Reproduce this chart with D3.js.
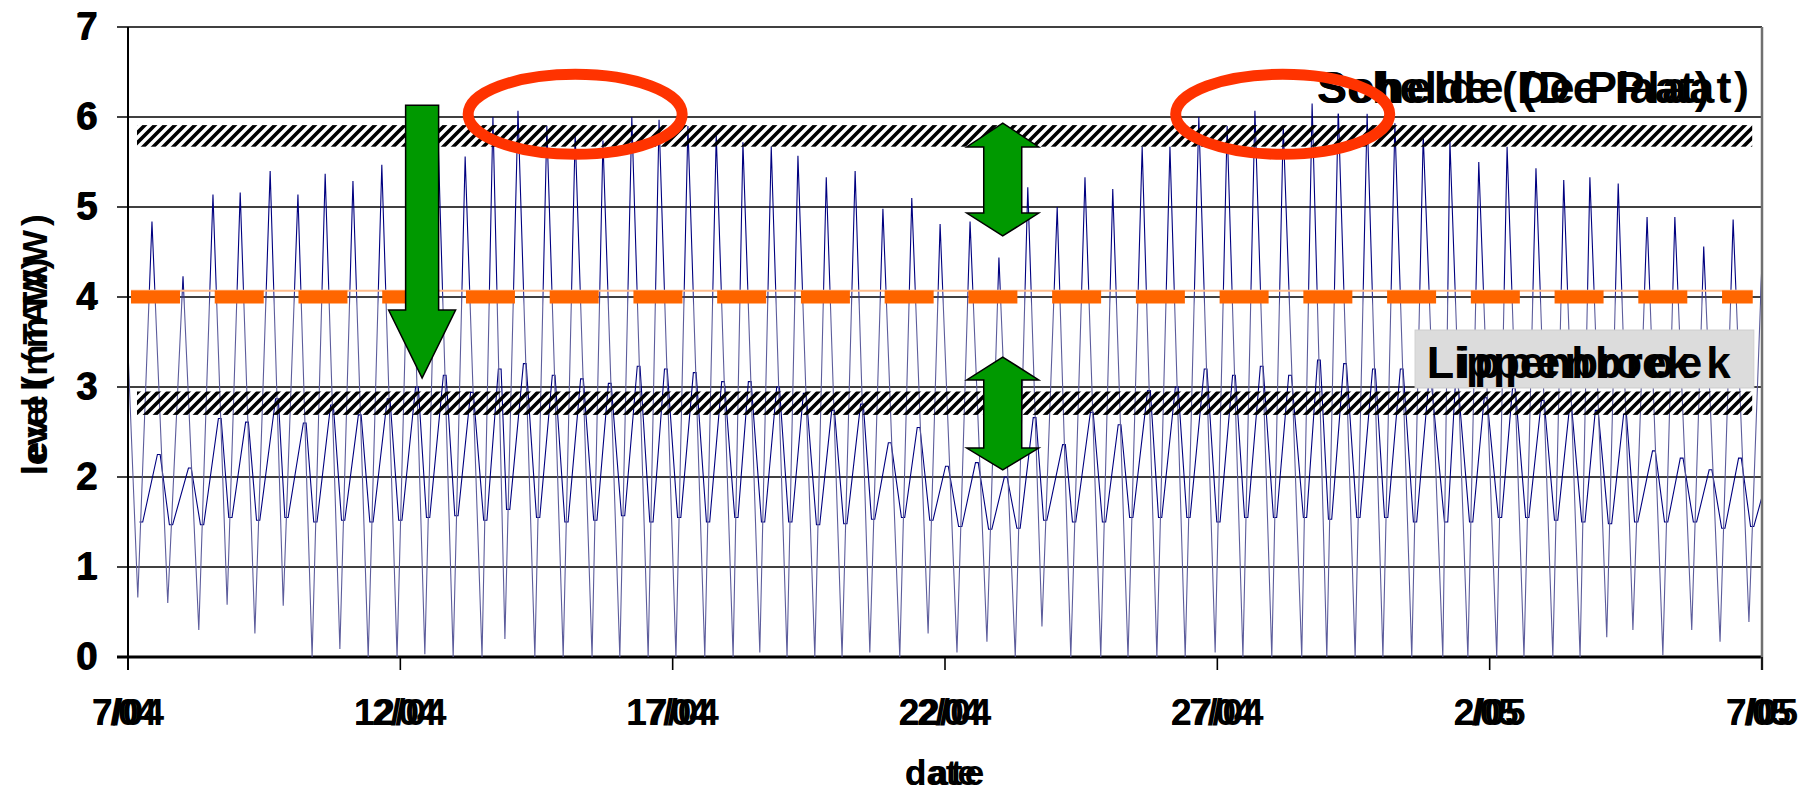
<!DOCTYPE html>
<html><head><meta charset="utf-8">
<script src="https://cdn.jsdelivr.net/npm/d3@7"></script>
<style>body{margin:0;background:#fff}</style>
</head><body>
<svg id="c" width="1814" height="795"></svg>
<script>
// ---------------- data ----------------
const xTickDays = [0, 5, 10, 15, 20, 25, 30];
const xTickLabels = ["7/04", "12/04", "17/04", "22/04", "27/04", "2/05", "7/05"];
const yTicks = [0, 1, 2, 3, 4, 5, 6, 7];

// Schelde (De Plaat): high waters (days since 7/04, level mTAW)
const hwT = [0.44,1.01,1.56,2.06,2.61,3.12,3.62,4.13,4.66,5.18,5.69,6.19,6.70,7.16,7.69,8.21,8.72,9.25,9.75,10.28,
  10.80,11.29,11.81,12.30,12.82,13.35,13.86,14.39,14.91,15.46,15.99,16.52,17.06,17.57,18.08,18.62,19.13,19.66,20.18,20.69,
  21.21,21.74,22.22,22.75,23.26,23.78,24.27,24.80,25.32,25.85,26.36,26.84,27.36,27.89,28.40,28.93,29.47,30.00];
const hwLevel = [4.84,4.23,5.14,5.16,5.40,5.14,5.37,5.29,5.47,5.60,5.83,5.56,6.00,6.07,5.90,5.81,5.74,6.00,5.97,5.90,
  5.80,5.72,5.67,5.57,5.33,5.40,4.98,5.10,4.81,4.84,4.44,5.22,5.00,5.33,5.20,5.67,5.67,6.00,5.90,6.07,
  5.90,6.15,6.10,6.04,5.93,5.80,5.74,5.50,5.67,5.43,5.30,5.33,5.26,4.89,4.89,4.56,4.86,4.40];
// Schelde low waters
const lwT = [0.18,0.73,1.30,1.82,2.33,2.85,3.38,3.89,4.41,4.94,5.45,5.97,6.50,6.92,7.47,7.99,8.52,9.03,9.55,10.06,
  10.59,11.11,11.60,12.10,12.61,13.11,13.62,14.17,14.69,15.22,15.77,16.29,16.78,17.31,17.86,18.36,18.89,19.41,19.96,20.47,
  21.00,21.55,22.01,22.53,23.04,23.57,24.14,24.60,25.13,25.63,26.16,26.66,27.15,27.63,28.18,28.71,29.23,29.76];
const lwLevel = [0.66,0.60,0.30,0.58,0.26,0.57,0.00,0.09,0.00,0.00,0.03,0.00,0.00,0.20,0.00,0.00,0.00,0.00,0.00,0.00,
  0.00,0.00,0.05,0.00,0.00,0.00,0.05,0.00,0.26,0.05,0.17,0.00,0.34,0.00,0.00,0.00,0.00,0.00,0.05,0.00,
  0.00,0.00,0.00,0.00,0.00,0.00,0.00,0.00,0.00,0.00,0.00,0.00,0.22,0.30,0.02,0.30,0.17,0.39];
const scheldeStart = [0.0, 3.4];

// Lippenbroek: high and low level per tide
const lipHigh = [2.25,2.10,2.65,2.61,2.87,2.60,2.80,2.69,2.87,3.00,3.13,2.94,3.20,3.26,3.13,3.09,3.04,3.23,3.20,3.16,
  3.06,3.06,3.00,2.93,2.74,2.81,2.38,2.55,2.12,2.16,2.00,2.66,2.36,2.72,2.58,2.96,3.00,3.20,3.13,3.23,
  3.13,3.30,3.26,3.20,3.20,3.05,3.03,2.88,2.99,2.85,2.74,2.74,2.70,2.29,2.21,2.08,2.21,2.00];
const lipLow = [1.50,1.47,1.47,1.55,1.52,1.55,1.50,1.52,1.50,1.52,1.55,1.57,1.52,1.64,1.55,1.50,1.52,1.57,1.50,1.55,
  1.50,1.55,1.50,1.50,1.47,1.48,1.53,1.55,1.52,1.45,1.42,1.43,1.52,1.50,1.50,1.55,1.55,1.55,1.50,1.55,
  1.55,1.55,1.53,1.55,1.55,1.50,1.50,1.50,1.55,1.55,1.52,1.50,1.48,1.50,1.50,1.50,1.43,1.45];
// time lags of Lippenbroek behind Schelde (days): top start/end, low start/end
const lipLag = {topStart: 0.10, topEnd: 0.15, lowStart: 0.03, lowEnd: 0.09};

// reference bands and level
const bands = [{lo: 5.67, hi: 5.91}, {lo: 2.69, hi: 2.95}];
const bandDays = [0.165, 29.82];
const refLevel = 4.0, refThin = 4.07;
const refDays = [0.055, 29.83];

// annotations (data coordinates)
const downArrow = {day: 5.40, top: 6.13, base: 3.856, tip: 3.10};
const dblArrows = [
  {day: 16.06, tip1: 5.933, base1: 5.667, base2: 4.933, tip2: 4.678},
  {day: 16.06, tip1: 3.333, base1: 3.078, base2: 2.322, tip2: 2.078}
];
const ellipses = [{day: 8.21, level: 6.03}, {day: 21.20, level: 6.03}];
const scheldeLabel = {text: "Schelde (De Plaat)", day: 21.83, level: 6.16};
const lipLabel = {text: "Lippenbroek", day: 23.85, level: 3.10, box: [23.63, 29.85, 3.633, 2.989]};

// ---------------- chart ----------------
const svg = d3.select("#c");
const FONT = "'Liberation Sans', Arial, sans-serif";
const x = d3.scaleLinear().domain([0, 30]).range([128, 1762]);
const y = d3.scaleLinear().domain([0, 7]).range([657, 27]);

const defs = svg.append("defs");
defs.append("clipPath").attr("id", "plotclip").append("rect")
  .attr("x", x(0)).attr("y", y(7)).attr("width", x(30) - x(0)).attr("height", y(0) - y(7) + 1);
const pat = defs.append("pattern").attr("id", "hatch").attr("patternUnits", "userSpaceOnUse")
  .attr("width", 10).attr("height", 10);
pat.append("path").attr("d", "M-2,2 l4,-4 M0,10 l10,-10 M8,12 l4,-4")
  .attr("stroke", "#000").attr("stroke-width", 3.6);
const grad = defs.append("linearGradient").attr("id", "sgrad").attr("gradientUnits", "userSpaceOnUse")
  .attr("x1", 0).attr("x2", 0).attr("y1", y(7)).attr("y2", y(0));
grad.append("stop").attr("offset", (y(4.15) - y(7)) / (y(0) - y(7))).attr("stop-color", "#000080");
grad.append("stop").attr("offset", (y(3.9) - y(7)) / (y(0) - y(7))).attr("stop-color", "#5c5c9c");
grad.append("stop").attr("offset", 1).attr("stop-color", "#5c5c9c");

// gridlines
svg.append("g").selectAll("line").data(yTicks).join("line")
  .attr("x1", 117).attr("x2", x(30))
  .attr("y1", d => y(d)).attr("y2", d => y(d))
  .attr("stroke", "#000").attr("stroke-width", d => d === 0 ? 3 : 1.6);

const plot = svg.append("g").attr("clip-path", "url(#plotclip)");
const line = d3.line().x(d => x(d[0])).y(d => y(d[1]));

// Lippenbroek series
const lip = [];
for (let i = 0; i < lipHigh.length; i++) {
  lip.push([lwT[i] + lipLag.lowStart, lipLow[i]]);
  lip.push([lwT[i] + lipLag.lowEnd, lipLow[i]]);
  lip.push([hwT[i] + lipLag.topStart, lipHigh[i]]);
  lip.push([hwT[i] + lipLag.topEnd, lipHigh[i]]);
}
plot.append("path").attr("d", line(lip)).attr("fill", "none")
  .attr("stroke", "#000080").attr("stroke-width", 1.1);

// Schelde series
const schelde = [scheldeStart];
for (let i = 0; i < hwT.length; i++) {
  schelde.push([lwT[i], lwLevel[i]]);
  schelde.push([hwT[i], hwLevel[i]]);
}
plot.append("path").attr("d", line(schelde)).attr("fill", "none")
  .attr("stroke", "url(#sgrad)").attr("stroke-width", 1.1);

// hatched bands
svg.append("g").selectAll("rect").data(bands).join("rect")
  .attr("x", x(bandDays[0])).attr("width", x(bandDays[1]) - x(bandDays[0]))
  .attr("y", d => y(d.hi)).attr("height", d => y(d.lo) - y(d.hi))
  .attr("fill", "url(#hatch)");

// reference level (orange)
svg.append("line").attr("x1", x(refDays[0])).attr("x2", x(refDays[1]))
  .attr("y1", y(refThin)).attr("y2", y(refThin))
  .attr("stroke", "#ffbb8a").attr("stroke-width", 2);
svg.append("line").attr("x1", x(refDays[0])).attr("x2", x(refDays[1]))
  .attr("y1", y(refLevel)).attr("y2", y(refLevel))
  .attr("stroke", "#ff6600").attr("stroke-width", 13)
  .attr("stroke-dasharray", "49 34.74");

// green arrows
const GREEN = "#009900";
{
  const cx = x(downArrow.day), sw = 16.5, hw = 33.5;
  const p = [[cx - sw, y(downArrow.top)], [cx + sw, y(downArrow.top)], [cx + sw, y(downArrow.base)],
    [cx + hw, y(downArrow.base)], [cx, y(downArrow.tip)], [cx - hw, y(downArrow.base)], [cx - sw, y(downArrow.base)]];
  svg.append("polygon").attr("points", p.map(d => d.join(",")).join(" "))
    .attr("fill", GREEN).attr("stroke", "#000").attr("stroke-width", 1.5);
}
svg.append("g").selectAll("polygon").data(dblArrows).join("polygon")
  .attr("points", a => {
    const cx = x(a.day), sw = 19, hw = 36;
    return [[cx, y(a.tip1)], [cx + hw, y(a.base1)], [cx + sw, y(a.base1)], [cx + sw, y(a.base2)],
      [cx + hw, y(a.base2)], [cx, y(a.tip2)], [cx - hw, y(a.base2)], [cx - sw, y(a.base2)],
      [cx - sw, y(a.base1)], [cx - hw, y(a.base1)]].map(d => d.join(",")).join(" ");
  })
  .attr("fill", GREEN).attr("stroke", "#000").attr("stroke-width", 1.5);

// doubled text helper
function dbl(g, tx, ty, txt, size, stretch, anchor, dx2 = 0, dy2 = 0) {
  const a = g.append("text").attr("x", tx).attr("y", ty).text(txt)
    .attr("font-family", FONT).attr("font-weight", "bold").attr("font-size", size)
    .attr("text-anchor", anchor).attr("fill", "#000");
  const L = a.node().getComputedTextLength();
  let sx = tx;
  if (anchor === "middle") sx = tx - L / 2;
  if (anchor === "end") sx = tx - L;
  const b = g.append("text").attr("x", sx + dx2).attr("y", ty + dy2).text(txt)
    .attr("font-family", FONT).attr("font-weight", "bold").attr("font-size", size)
    .attr("text-anchor", "start").attr("fill", "#000");
  if (txt.length > 1 && stretch !== 1) b.attr("textLength", L * stretch).attr("lengthAdjust", "spacing");
  return [a, b];
}

// Lippenbroek label box
{
  const b = lipLabel.box;
  svg.append("rect").attr("x", x(b[0])).attr("y", y(b[2]))
    .attr("width", x(b[1]) - x(b[0])).attr("height", y(b[3]) - y(b[2]))
    .attr("fill", "#dcdcdc").attr("stroke", "#cfcfcf").attr("stroke-width", 1);
  dbl(svg, x(lipLabel.day), y(lipLabel.level), lipLabel.text, 44, 1.15, "start");
}
// Schelde label
{
  svg.append("rect").attr("x", x(scheldeLabel.day) - 4).attr("y", y(scheldeLabel.level) - 38)
    .attr("width", 424).attr("height", 49).attr("fill", "#fff");
  dbl(svg, x(scheldeLabel.day), y(scheldeLabel.level), scheldeLabel.text, 45, 1.1, "start");
}

// red ellipses
svg.append("g").selectAll("ellipse").data(ellipses).join("ellipse")
  .attr("cx", d => x(d.day)).attr("cy", d => y(d.level)).attr("rx", 107).attr("ry", 40)
  .attr("fill", "none").attr("stroke", "#ff3300").attr("stroke-width", 11);

// axes frame
svg.append("line").attr("x1", x(0)).attr("x2", x(0)).attr("y1", y(7)).attr("y2", y(0) + 13)
  .attr("stroke", "#000").attr("stroke-width", 2);
svg.append("line").attr("x1", x(30)).attr("x2", x(30)).attr("y1", y(7)).attr("y2", y(0) + 13)
  .attr("stroke", "#707070").attr("stroke-width", 2.5);
svg.append("g").selectAll("line").data(xTickDays).join("line")
  .attr("x1", d => x(d)).attr("x2", d => x(d)).attr("y1", y(0)).attr("y2", y(0) + 13)
  .attr("stroke", "#000").attr("stroke-width", 1.6);

// tick labels
const gy = svg.append("g");
yTicks.forEach(v => dbl(gy, 97, y(v) + 13, String(v), 38, 1, "end", 1.2, -1));
const gx = svg.append("g");
xTickDays.forEach((d, i) => dbl(gx, x(d), 725, xTickLabels[i], 37, 0.9, "middle"));

// axis titles
dbl(svg, x(15) - 4, 785, "date", 35, 1.1, "middle");
{
  const g = svg.append("g").attr("transform", "translate(47,475) rotate(-90)");
  dbl(g, 0, 0, "level (mTAW)", 35, 1.2, "start");
}
</script>
</body></html>
